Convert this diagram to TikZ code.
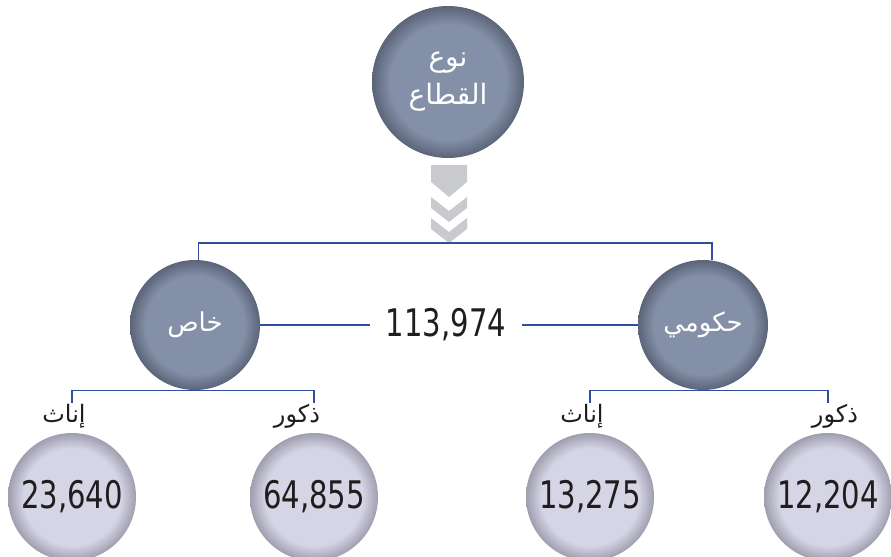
\documentclass[tikz,border=0pt]{standalone}
\usepackage{fontspec}
\usetikzlibrary{calc}
\setmainfont{DejaVu Sans Condensed}
\newfontfamily\numfont[FakeStretch=0.85]{DejaVu Sans Condensed}
\newfontfamily\arabicfont[Script=Arabic]{DejaVu Sans}
\TeXXeTstate=1

\definecolor{ballin}{HTML}{8490A8}
\definecolor{ballout}{HTML}{5B6478}
\definecolor{dotin}{HTML}{D5D5E5}
\definecolor{dotout}{HTML}{9E9EAE}
\definecolor{linkblue}{HTML}{2F4E9E}
\definecolor{chevgray}{HTML}{C8CACD}
\definecolor{numblack}{HTML}{1E1E1E}

\pgfdeclareradialshading{ballshade}{\pgfpoint{0bp}{0bp}}{color(0bp)=(ballin); color(19bp)=(ballin); color(25bp)=(ballout); color(50bp)=(ballout)}
\pgfdeclareradialshading{dotshade}{\pgfpoint{0bp}{0bp}}{color(0bp)=(dotin); color(19bp)=(dotin); color(25bp)=(dotout); color(50bp)=(dotout)}

\begin{document}
\begin{tikzpicture}[x=0.5pt,y=-0.5pt,
    ball/.style={circle,inner sep=0pt,minimum size=#1,shading=ballshade,text=white,
      font=\arabicfont\fontsize{13}{18}\selectfont},
    dot/.style={circle,inner sep=0pt,minimum size=64pt,shading=dotshade,text=numblack,
      font=\numfont\fontsize{19}{21}\selectfont},
    tag/.style={text=numblack,font=\arabicfont\fontsize{12}{14}\selectfont},
    link/.style={draw=linkblue,line width=0.8pt},
    chev/.style={fill=chevgray}]
  \useasboundingbox (0,0) rectangle (891,557);

  % chevrons under the top circle
  \fill[chev] (431,165) -- (467,165) -- (467,182) -- (449,197) -- (431,182) -- cycle;
  \foreach \y in {197,218}
    \fill[chev] (431,\y) -- (449,\y+14) -- (467,\y) -- (467,\y+11) -- (449,\y+25) -- (431,\y+11) -- cycle;

  \node[ball=76pt, font=\arabicfont\fontsize{14}{19}\selectfont, align=center] (sector) at (448,82)
    {\beginR نوع\endR\\\beginR القطاع\endR};
  \node[ball=65pt] (khas) at (195,325) {\beginR خاص\endR};
  \node[ball=65pt] (hukumi) at (703,325) {\beginR حكومي\endR};
  \node[text=numblack, font=\numfont\fontsize{19}{21}\selectfont, inner xsep=8pt] (total) at (446,325) {113,974};

  \node[dot] (f1) at (72,497) {23,640};
  \node[dot] (m1) at (314,497) {64,855};
  \node[dot] (f2) at (590,497) {13,275};
  \node[dot] (m2) at (828,497) {12,204};

  \node[tag] (f1lab) at (64,416) {\beginR إناث\endR};
  \node[tag] (m1lab) at (297,416) {\beginR ذكور\endR};
  \node[tag] (f2lab) at (582,416) {\beginR إناث\endR};
  \node[tag] (m2lab) at (835,416) {\beginR ذكور\endR};

  \coordinate (split) at (450,243);
  \draw[link] (khas.87) |- (split) -| (hukumi.82);
  \draw[link] (khas.east) -- (total.west);
  \draw[link] (total.east) -- (hukumi.west);
  \draw[link] ($(f1.north)+(0,-30)$) |- (khas.south) -| ($(m1.north)+(0,-30)$);
  \draw[link] ($(f2.north)+(0,-30)$) |- (hukumi.south) -| ($(m2.north)+(0,-30)$);
\end{tikzpicture}
\end{document}
